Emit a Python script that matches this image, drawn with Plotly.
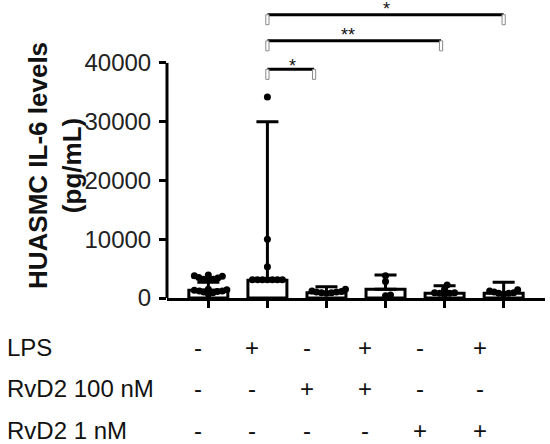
import plotly.graph_objects as go

# ---------------- data ----------------
groups = ["Ctrl", "LPS", "RvD2 100 nM", "LPS + RvD2 100 nM", "RvD2 1 nM", "LPS + RvD2 1 nM"]
bar_heights = [1300, 3000, 900, 1500, 800, 800]
whisker_tops = [2700, 30000, 1900, 3900, 2100, 2700]

points_g1 = [3100, 3200, 3200, 3400, 3500, 3700, 3800, 3900, 700, 900, 1000, 1100, 1200, 1200, 1300, 1400, 1500]
points_g2 = [34200, 10000, 5300, 3100, 3100, 3100, 3100, 3100, 3100, 3100]
points_g3 = [1500, 1200, 1100, 1000, 1000, 900, 900, 800]
points_g4 = [3800, 2800, 500, 400]
points_g5 = [1500, 2200, 900, 900, 800, 800, 700]
points_g6 = [1200, 1400, 1000, 900, 800, 800, 700]
all_points = [points_g1, points_g2, points_g3, points_g4, points_g5, points_g6]

row_labels = ["LPS", "RvD2 100 nM", "RvD2 1 nM"]
lps_signs = ["-", "+", "-", "+", "-", "+"]
rvd2_100_signs = ["-", "-", "+", "+", "-", "-"]
rvd2_1_signs = ["-", "-", "-", "-", "+", "+"]

y_ticks = [0, 10000, 20000, 30000, 40000]
y_tick_labels = ["0", "10000", "20000", "30000", "40000"]

# comparisons: (from group, to group, label)
comparisons = [(1, 2, "*"), (1, 4, "**"), (1, 5, "*")]

# ---------------- layout constants ----------------
W, H = 550, 444
ML, MR, MT, MB = 167, 5, 0, 146
XR = [-0.7, 5.7]
YR = [0, 50700]
plot_w = W - ML - MR
plot_h = H - MT - MB
px_per_x = plot_w / (XR[1] - XR[0])
px_per_y = plot_h / (YR[1] - YR[0])
FONT = "Liberation Sans, Arial, sans-serif"


def swarm(vals, diam=4.6):
    """simple beeswarm: offsets (in x units) so dots don't overlap in pixels"""
    order = sorted(range(len(vals)), key=lambda i: vals[i])
    placed = []
    offs = [0.0] * len(vals)
    for i in order:
        ypx = vals[i] * px_per_y
        k = 0
        while True:
            found = None
            for cand in ([0.0] if k == 0 else [k * 0.5, -k * 0.5]):
                if all((cand - px) ** 2 + (ypx - py) ** 2 >= diam ** 2 for px, py in placed):
                    found = cand
                    break
            if found is not None:
                placed.append((found, ypx))
                offs[i] = found / px_per_x
                break
            k += 1
    return offs


fig = go.Figure()

xs = list(range(len(groups)))
fig.add_trace(go.Bar(
    x=xs, y=bar_heights, width=0.66,
    marker=dict(color="white", line=dict(color="black", width=3)),
    error_y=dict(type="data", symmetric=False,
                 array=[w - b for w, b in zip(whisker_tops, bar_heights)],
                 arrayminus=[0] * len(groups),
                 color="black", thickness=3, width=11),
    showlegend=False, hoverinfo="skip",
))

px_all, py_all = [], []
for gi, vals in enumerate(all_points):
    offs = swarm(vals)
    for v, o in zip(vals, offs):
        px_all.append(gi + o)
        py_all.append(v)
fig.add_trace(go.Scatter(
    x=px_all, y=py_all, mode="markers",
    marker=dict(color="black", size=7),
    cliponaxis=False, showlegend=False, hoverinfo="skip",
))

shapes = []
# y axis line only up to 40000
shapes.append(dict(type="line", xref="paper", yref="y", x0=0, x1=0,
                   y0=0, y1=y_ticks[-1], line=dict(color="black", width=3)))

# significance brackets
bracket_levels = [38900, 43750, 48200]
bracket_end_shift = [-0.21, -0.06, 0.0]
leg_len = 1700
leg_half = 1.6 / px_per_x
star_x = [1.42, 2.37, 3.01]
star_y = [37500, 42770, 47200]
annotations = []
for (a, b, lab), lev, sh, sx, sy in zip(comparisons, bracket_levels, bracket_end_shift, star_x, star_y):
    xb = b + sh
    shapes.append(dict(type="line", xref="x", yref="y", x0=a, x1=xb, y0=lev, y1=lev,
                       line=dict(color="black", width=3)))
    for xx in (a, xb):
        shapes.append(dict(type="rect", xref="x", yref="y",
                           x0=xx - leg_half, x1=xx + leg_half, y0=lev - leg_len, y1=lev,
                           line=dict(color="#8a8a8a", width=1), fillcolor="white"))
    annotations.append(dict(x=sx, y=sy, xref="x", yref="y", text=lab, showarrow=False,
                            yanchor="bottom", xanchor="center",
                            font=dict(family=FONT, size=18, color="#111")))

# condition table below the axis
col_px = [198, 252, 307, 365, 420, 480]
row_px = [347, 388, 430]
for r, (lab, signs) in enumerate(zip(row_labels, [lps_signs, rvd2_100_signs, rvd2_1_signs])):
    yp = (plot_h - (row_px[r] - MT)) / plot_h
    annotations.append(dict(x=(5 - ML) / plot_w, y=yp, xref="paper", yref="paper",
                            text=lab, showarrow=False, xanchor="left", yanchor="middle",
                            font=dict(family=FONT, size=24, color="#111")))
    for c, s in enumerate(signs):
        annotations.append(dict(x=(col_px[c] - ML) / plot_w, y=yp, xref="paper", yref="paper",
                                text=s, showarrow=False, xanchor="center", yanchor="middle",
                                font=dict(family=FONT, size=24, color="#111")))

# y axis title
annotations.append(dict(x=(55 - ML) / plot_w, y=(plot_h - 166) / plot_h, xref="paper", yref="paper",
                        text="<b>HUASMC IL-6 levels</b><br><b>(pg/mL)</b>", textangle=-90,
                        showarrow=False, xanchor="center", yanchor="middle",
                        font=dict(family=FONT, size=26, color="#111")))

fig.update_layout(
    width=W, height=H,
    margin=dict(l=ML, r=MR, t=MT, b=MB),
    paper_bgcolor="white", plot_bgcolor="white",
    shapes=shapes, annotations=annotations,
    showlegend=False,
    xaxis=dict(range=XR, tickvals=xs, ticktext=[""] * len(xs), showgrid=False, zeroline=False,
               showline=True, linecolor="black", linewidth=3,
               ticks="outside", ticklen=7, tickwidth=3, tickcolor="black"),
    yaxis=dict(range=YR, tickvals=y_ticks, ticktext=y_tick_labels, showgrid=False, zeroline=False,
               showline=False, ticks="outside", ticklen=7, tickwidth=3, tickcolor="black",
               ticklabelstandoff=3,
               tickfont=dict(family=FONT, size=24, color="#222")),
)

fig.write_html("out.html",
               config={"displayModeBar": False, "staticPlot": True},
               post_script="document.body.style.margin='0px';document.body.style.overflow='hidden';")
